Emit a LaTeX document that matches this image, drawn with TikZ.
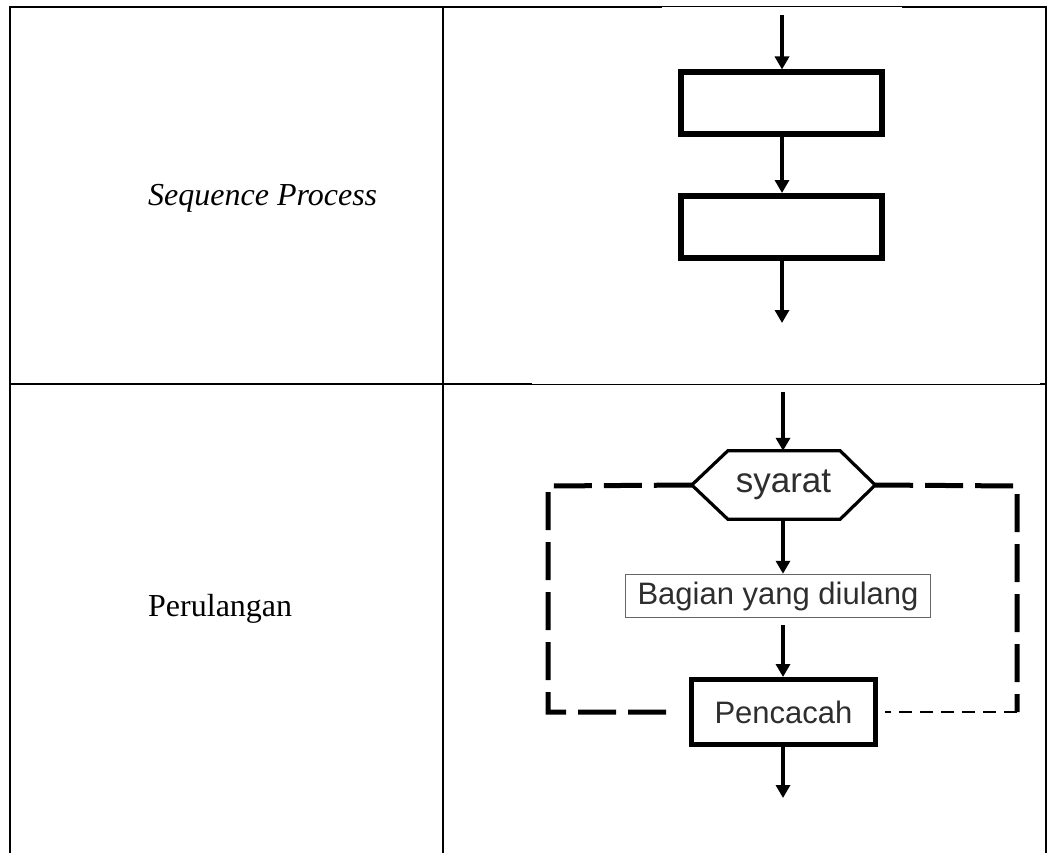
\documentclass[tikz,border=0pt]{standalone}
\usepackage{fontspec}
\setmainfont{Liberation Serif}
\newfontfamily\arialfont{Liberation Sans}
\usetikzlibrary{arrows.meta}
\begin{document}
\begin{tikzpicture}[x=1pt,y=-1pt,
  tableline/.style={line width=2pt,black},
  thinrule/.style={line width=1pt,black},
  labeltext/.style={font=\fontsize{32}{38}\selectfont,anchor=base west,inner sep=0pt},
  procbox/.style={draw,line width=6pt,minimum width=201pt,minimum height=62pt,inner sep=0pt},
  flowarrow/.style={line width=4pt,-{Triangle[width=14pt,length=13pt]}},
  hexnode/.style={minimum width=183pt,minimum height=68pt,inner sep=0pt,text=black!82,font=\arialfont\fontsize{35}{40}\selectfont},
  loopbox/.style={draw=black!60,line width=1.5pt,minimum width=305pt,minimum height=43pt,inner sep=0pt,text=black!82,font=\arialfont\fontsize{31}{37}\selectfont},
  countbox/.style={draw,line width=5pt,minimum width=184pt,minimum height=65pt,inner sep=0pt,text=black!82,font=\arialfont\fontsize{31}{37}\selectfont},
  thickdash/.style={line width=5pt,dash pattern=on 38pt off 12pt},
  thindash/.style={line width=2pt,dash pattern=on 13pt off 8pt}
]
\useasboundingbox (0,0) rectangle (1048,853);
\fill[white] (0,0) rectangle (1048,853);

% table
\draw[tableline] (10,7) -- (662,7);
\draw[thinrule] (662,7) -- (902,7);
\draw[tableline] (902,7) -- (1046,7);
\draw[tableline] (10,6) -- (10,853);
\draw[tableline] (443,6) -- (443,853);
\draw[tableline] (1046,6) -- (1046,853);
\draw[tableline] (10,384) -- (532,384);
\draw[thinrule] (532,384) -- (1040,384);
\draw[tableline] (1040,384) -- (1046,384);

% labels
\node[labeltext] (seqlabel) at (148,205) {\itshape Sequence Process};
\node[labeltext] (looplabel) at (148,616) {Perulangan};

% sequence flowchart
\coordinate (s0) at (782,15);
\node[procbox] (box1) at (781,103.5) {};
\node[procbox] (box2) at (781,227) {};
\coordinate (s3) at (782,323);
\draw[flowarrow] (s0) -- (s0 |- box1.north);
\draw[flowarrow] (s0 |- box1.south) -- (s0 |- box2.north);
\draw[flowarrow] (s0 |- box2.south) -- (s3);

% loop flowchart
\coordinate (l0) at (783,392);
\node[hexnode] (syarat) at (783.5,485) {syarat};
\draw[line width=3.2pt,line join=miter]
  (syarat.west) -- ([xshift=36pt]syarat.north west) -- ([xshift=-35pt]syarat.north east)
  -- (syarat.east) -- ([xshift=-35pt]syarat.south east) -- ([xshift=36pt]syarat.south west) -- cycle;
\node[loopbox] (bagian) at (778,596) {Bagian yang diulang};
\node[countbox] (pencacah) at (783.5,712) {Pencacah};
\coordinate (l4) at (783,798);
\draw[flowarrow] (l0) -- (l0 |- syarat.north);
\draw[flowarrow] (l0 |- syarat.south) -- (l0 |- bagian.north);
\draw[flowarrow,shorten <=7pt] (l0 |- bagian.south) -- (l0 |- pencacah.north);
\draw[flowarrow] (l0 |- pencacah.south) -- (l4);

\coordinate (cl1) at (548,486);
\coordinate (cl2) at (548,712);
\coordinate (cr1) at (1017,486);
\coordinate (cr2) at (1017,712);
\draw[thickdash] (syarat.west) -- (cl1) -- (cl2) -- ([xshift=-16pt]pencacah.west);
\draw[thickdash] (syarat.east) -- (cr1) -- (cr2);
\draw[thindash] (cr2) -- ([xshift=7pt]pencacah.east);
\end{tikzpicture}
\end{document}
